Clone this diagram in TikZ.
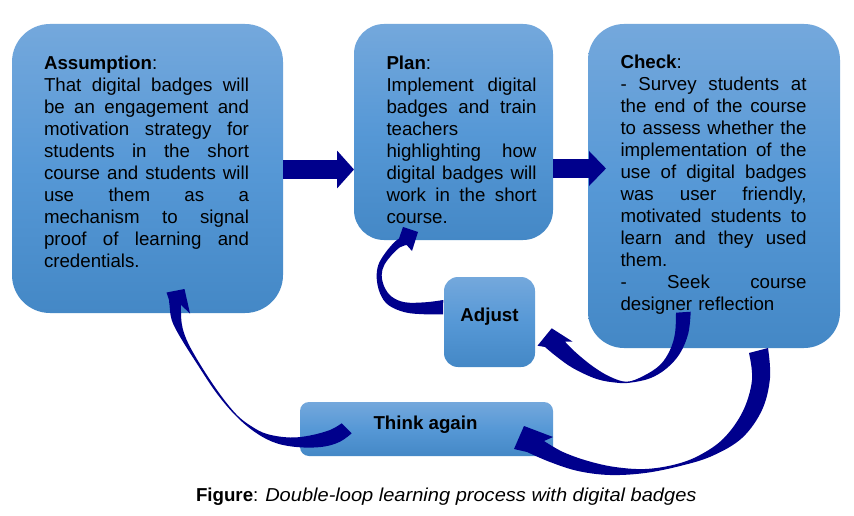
\documentclass[tikz,border=0pt]{standalone}
\usepackage{fontspec}
\usepackage{graphicx}
\setmainfont{Liberation Sans}
\usetikzlibrary{arrows.meta,calc}
\definecolor{navy}{RGB}{0,0,140}
\definecolor{boxtop}{RGB}{116,168,220}
\definecolor{boxmid}{RGB}{86,152,214}
\definecolor{boxbot}{RGB}{68,136,198}
\newcommand\jl[2]{\leavevmode\hbox to #1pt{#2}}
\newcommand\hf{\hfill}
\begin{document}
\begin{tikzpicture}[x=1pt,y=-1pt,
  box/.style={inner sep=0pt, outer sep=0pt, top color=boxtop, bottom color=boxbot, middle color=boxmid},
  txt/.style={inner sep=0pt, outer sep=0pt, font=\fontsize{18.7}{22}\selectfont, align=left, text=black},
  fatarrow/.style={draw=navy, line width=18pt},
  curvearrow/.style={fill=navy}]
\useasboundingbox (0,0) rectangle (854,516);
\fill[white] (0,0) rectangle (854,516);

% boxes
\node[box, rounded corners=38pt, minimum width=271pt, minimum height=289pt] (asm) at (147.5,168.5) {};
\node[box, rounded corners=30pt, minimum width=199pt, minimum height=216pt] (plan) at (453.5,132) {};
\node[box, rounded corners=36pt, minimum width=252pt, minimum height=324pt] (check) at (714,186) {};
\node[box, rounded corners=14pt, minimum width=91pt, minimum height=90pt] (adjust) at (489.5,322) {};
\node[box, rounded corners=9pt, minimum width=253pt, minimum height=54pt] (think) at (426.5,429) {};

% texts
\node[txt, anchor=north west, text width=205pt] (asmtext) at (44,55.6) {\textbf{Assumption}:\\
\jl{205}{That\hf digital\hf badges\hf will}\\
\jl{205}{be\hf an\hf engagement\hf and}\\
\jl{205}{motivation\hf strategy\hf for}\\
\jl{205}{students\hf in\hf the\hf short}\\
\jl{205}{course\hf and\hf students\hf will}\\
\jl{205}{use\hf them\hf as\hf a}\\
\jl{205}{mechanism\hf to\hf signal}\\
\jl{205}{proof\hf of\hf learning\hf and}\\
credentials.};

\node[txt, anchor=north west, text width=150pt] (plantext) at (386.5,55.6) {\textbf{Plan}:\\
\jl{150}{Implement\hf digital}\\
\jl{150}{badges\hf and\hf train}\\
teachers\\
\jl{150}{highlighting\hf how}\\
\jl{150}{digital\hf badges\hf will}\\
\jl{150}{work\hf in\hf the\hf short}\\
course.};

\node[txt, anchor=north west, text width=186pt] (checktext) at (620.5,54.6) {\textbf{Check}:\\
\jl{186}{-\hf Survey\hf students\hf at}\\
\jl{186}{the\hf end\hf of\hf the\hf course}\\
\jl{186}{to\hf assess\hf whether\hf the}\\
\jl{186}{implementation\hf of\hf the}\\
\jl{186}{use\hf of\hf digital\hf badges}\\
\jl{186}{was\hf user\hf friendly,}\\
\jl{186}{motivated\hf students\hf to}\\
\jl{186}{learn\hf and\hf they\hf used}\\
them.\\
\jl{186}{-\hf Seek\hf course}\\
designer reflection};

\node[txt, anchor=base, font=\fontsize{18.7}{22}\selectfont\bfseries] (adjusttext) at (489.5,321) {Adjust};
\node[txt, anchor=base, font=\fontsize{18.7}{22}\selectfont\bfseries] (thinktext) at (425.5,429) {Think again};
\node[txt, anchor=base west] (caption) at (196,501) {\textbf{Figure}: \scalebox{1.072}[1]{\textit{Double-loop learning process with digital badges}}};

% straight block arrows
\coordinate (r1) at (0,169.5);
\coordinate (r2) at (0,168.5);
\draw[fatarrow, -{Triangle[width=37pt,length=17pt]}] (asm.east |- r1) -- (plan.west |- r1);
\draw[fatarrow, -{Triangle[width=34pt,length=17pt]}] (plan.east |- r2) -- ($(check.west |- r2)+(18,0)$);

% curved arrow: Adjust -> Plan
\fill[curvearrow] plot[smooth, tension=0.6] coordinates {(443,314.3) (425,314.3) (405,312.3) (388.3,305) (380,293.3) (376.7,278.3) (378.3,265) (385,253.3) (393.3,243.3) (399,238.5)}
  -- (403,227) -- (418,232) -- (412,251)
  -- plot[smooth, tension=0.6] coordinates {(406.7,245) (400,247.3) (391.7,255) (384.3,265) (381.7,275) (384.3,286.7) (391.7,296.7) (405,302.3) (425,302.3) (443.3,300)} -- cycle;

% curved arrow: Check -> Adjust
\fill[curvearrow] plot[smooth, tension=0.6] coordinates {(690.7,311.7) (688.3,333.3) (680,353.3) (666.7,368.3) (650,378.3) (630,382.7) (616.7,382.7) (596.7,379) (573.3,368.3) (556.7,356.7) (545,347)}
  -- (537.5,345.7) -- (551.7,328.3) -- (572.7,341.7)
  -- plot[smooth, tension=0.6] coordinates {(565,341.7) (576.7,353.3) (593.3,366.7) (610,376.7) (626.7,381.7) (643.3,376) (660,365) (670,350) (675,333.3) (676,312.7)} -- cycle;

% curved arrow: Check -> Think again
\fill[curvearrow] plot[smooth, tension=0.6] coordinates {(768,348) (770,378) (762,410) (742,438) (712,456) (680,466) (645,473) (610,475) (578,471) (550,462) (527,452)}
  -- (514,449) -- (524,426) -- (553,437)
  -- plot[smooth, tension=0.6] coordinates {(544,441) (563,452) (588,461) (615,467) (645,469) (675,464.5) (700,455) (724,438) (743,411) (752,380) (749,353)} -- cycle;

% curved arrow: Think again -> Assumption
\fill[curvearrow] plot[smooth, tension=0.6] coordinates {(351.7,433.3) (340,441.7) (323.3,446.7) (300,447.3) (276.7,443.3) (256.7,433.3) (236.7,416.7) (216.7,393.3) (196.7,363.3) (180,336.7) (171.7,320) (169.5,305) (169,300)}
  -- (166.5,292.5) -- (184.5,289) -- (190,313.5)
  -- plot[smooth, tension=0.6] coordinates {(181,305) (181.7,323.3) (186.7,340) (199,362.5) (218,391.5) (236,414) (251,426) (267,434) (290,437.5) (310,435.5) (330,430) (341.7,423.3)} -- cycle;
\end{tikzpicture}
\end{document}
